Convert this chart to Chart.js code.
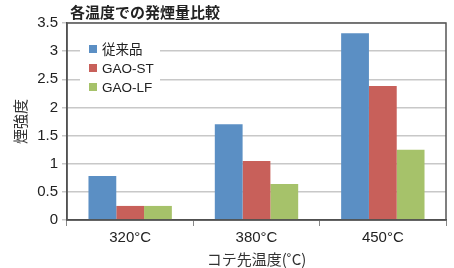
<!DOCTYPE html>
<html>
<head>
<meta charset="utf-8">
<script src="https://cdn.jsdelivr.net/npm/chart.js@4"></script>
<style>
  html, body { margin: 0; padding: 0; background: #fff; }
  #wrap { width: 454px; height: 268px; }
</style>
</head>
<body>
<div id="wrap"><canvas id="myChart" width="454" height="268"></canvas></div>
<script>
const categories = ['320°C', '380°C', '450°C'];
const seriesNames = ['従来品', 'GAO-ST', 'GAO-LF'];
const conventional = [0.78, 1.70, 3.32];
const gaoST = [0.25, 1.05, 2.38];
const gaoLF = [0.25, 0.64, 1.25];
const colors = ['#5b8fc4', '#c8605a', '#a6c26a'];

const FONT = "'Liberation Sans', 'Noto Sans CJK JP', sans-serif";
const JP = "'Noto Sans CJK JP', sans-serif";

// title, frame and the legend box inside the plot
const decor = {
  id: 'decor',
  afterDraw(chart) {
    const { ctx, chartArea: a } = chart;
    ctx.save();
    ctx.strokeStyle = '#555';
    ctx.lineWidth = 1.5;
    ctx.strokeRect(a.left, a.top, a.right - a.left, a.bottom - a.top);

    ctx.fillStyle = '#222';
    ctx.font = "bold 15px " + JP;
    ctx.textBaseline = 'middle';
    ctx.textAlign = 'left';
    ctx.fillText('各温度での発煙量比較', 70, 12);

    ctx.fillStyle = '#fff';
    ctx.fillRect(80, 38, 80, 58);
    const rows = [49, 68, 87];
    seriesNames.forEach((name, i) => {
      ctx.fillStyle = colors[i];
      ctx.fillRect(89, rows[i] - 4, 8, 8);
      ctx.fillStyle = '#222';
      ctx.font = "13.5px " + FONT;
      ctx.fillText(name, 102, rows[i] + 1);
    });
    ctx.restore();
  }
};

new Chart(document.getElementById('myChart'), {
  type: 'bar',
  data: {
    labels: categories,
    datasets: [
      { label: seriesNames[0], data: conventional, backgroundColor: colors[0] },
      { label: seriesNames[1], data: gaoST, backgroundColor: colors[1] },
      { label: seriesNames[2], data: gaoLF, backgroundColor: colors[2] }
    ]
  },
  options: {
    responsive: false,
    animation: false,
    layout: { padding: { top: 23, right: 8, left: 0, bottom: 0 } },
    datasets: { bar: { categoryPercentage: 0.66, barPercentage: 1.0 } },
    plugins: { legend: { display: false }, tooltip: { enabled: false } },
    scales: {
      x: {
        grid: { drawOnChartArea: false, offset: true, tickLength: 6, color: '#888' },
        border: { color: '#444', width: 1.5 },
        ticks: { color: '#222', font: { family: FONT, size: 15 }, padding: 3 },
        title: { display: true, text: 'コテ先温度(˚C)', color: '#333', font: { family: JP, size: 15 }, padding: 0 },
        afterFit(scale) { scale.height = 48; }
      },
      y: {
        min: 0, max: 3.5,
        ticks: { stepSize: 0.5, color: '#222', font: { family: FONT, size: 15 }, padding: 4,
          callback: (v) => String(v) },
        grid: { color: '#c8c8c8', lineWidth: 1.5, tickLength: 5 },
        border: { color: '#444', width: 1.5 },
        title: { display: true, text: '煙強度', color: '#333', font: { family: JP, size: 15 }, padding: { top: 11, bottom: 0 } },
        afterFit(scale) { scale.width = 67; }
      }
    }
  },
  plugins: [decor]
});
</script>
</body>
</html>
